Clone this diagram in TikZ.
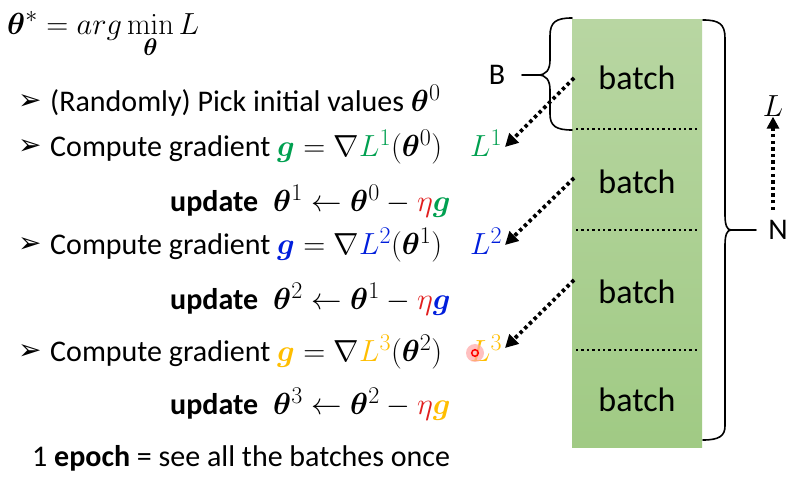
\RequirePackage{fix-cm}
\documentclass[tikz,border=0pt]{standalone}
\usepackage{amsmath,bm}
\usepackage[no-math]{fontspec}
\setmainfont{Carlito}
\newfontfamily\symfont{DejaVu Sans}
\usetikzlibrary{arrows.meta}
\DeclareMathSizes{30}{30.5}{24}{18}
\definecolor{mygreen}{RGB}{0,160,80}
\definecolor{myblue}{RGB}{0,30,220}
\definecolor{myyellow}{RGB}{255,190,0}
\definecolor{myred}{RGB}{225,30,30}
\definecolor{boxgreen}{RGB}{160,202,132}
\definecolor{boxtop}{RGB}{184,214,162}
\begin{document}
\begin{tikzpicture}[x=1pt,y=-1pt,
  txt/.style={font=\fontsize{30}{36}\selectfont, inner sep=0pt, anchor=base west},
  bul/.style={font=\symfont\fontsize{28}{32}\selectfont, inner sep=0pt, anchor=base west},
  lbl/.style={font=\fontsize{30}{36}\selectfont, inner sep=0pt},
  batchtxt/.style={font=\fontsize{34}{40}\selectfont, inner sep=0pt},
  sep/.style={line width=2.4pt, dash pattern=on 2.4pt off 3pt},
  darr/.style={line width=3.8pt, dash pattern=on 3.4pt off 3.2pt, -{Triangle[length=13pt,width=13pt]}},
  brace/.style={line width=1.6pt, line cap=round, line join=round}]
\useasboundingbox (0,0) rectangle (788,478);
\fill[white] (0,0) rectangle (788,478);

% green column
\fill[top color=boxtop, bottom color=boxgreen] (572,20) rectangle (702,448);
\draw[sep] (576,129) -- (700,129);
\draw[sep] (576,230) -- (700,230);
\draw[sep] (576,350) -- (700,350);
\node[batchtxt] (bt1) at (637,78) {batch};
\node[batchtxt] (bt2) at (637,182) {batch};
\node[batchtxt] (bt3) at (637,292) {batch};
\node[batchtxt] (bt4) at (637,400) {batch};

% left text
\node[txt] (t0) at (7,35) {$\displaystyle\bm{\theta}^{*} = arg\min_{\bm{\theta}} L$};
\node[bul] (b1) at (18,110) {➢};
\node[txt] (r1) at (50,112) {(Randomly) Pick initial values $\bm{\theta}^0$};
\node[bul] (b2) at (18,155) {➢};
\node[txt] (c1) at (50,157) {Compute gradient $\textcolor{mygreen}{\bm{g}} = \nabla\textcolor{mygreen}{L^1}(\bm{\theta}^0)$};
\node[txt] (u1) at (170,212) {\textbf{update}\enspace $\bm{\theta}^1 \leftarrow \bm{\theta}^0 - \textcolor{myred}{\eta}\textcolor{mygreen}{\bm{g}}$};
\node[bul] (b3) at (18,253) {➢};
\node[txt] (c2) at (50,255) {Compute gradient $\textcolor{myblue}{\bm{g}} = \nabla\textcolor{myblue}{L^2}(\bm{\theta}^1)$};
\node[txt] (u2) at (170,310) {\textbf{update}\enspace $\bm{\theta}^2 \leftarrow \bm{\theta}^1 - \textcolor{myred}{\eta}\textcolor{myblue}{\bm{g}}$};
\node[bul] (b4) at (18,360) {➢};
\node[txt] (c3) at (50,362) {Compute gradient $\textcolor{myyellow}{\bm{g}} = \nabla\textcolor{myyellow}{L^3}(\bm{\theta}^2)$};
\node[txt] (u3) at (170,415) {\textbf{update}\enspace $\bm{\theta}^3 \leftarrow \bm{\theta}^2 - \textcolor{myred}{\eta}\textcolor{myyellow}{\bm{g}}$};
\node[txt] (ep) at (32,467) {1 \textbf{epoch} = see all the batches once};

% loss labels
\node[txt] (L1) at (470,157) {$\textcolor{mygreen}{L^1}$};
\node[txt] (L2) at (470,255) {$\textcolor{myblue}{L^2}$};
\node[txt] (L3) at (470,362) {$\textcolor{myyellow}{L^3}$};

% pointer dot
\fill[red!35, opacity=0.7] (475,353) circle (9);
\draw[red, line width=1.5pt] (475,353) circle (3.3);

% arrows
\coordinate (s1) at (574,78);  \coordinate (e1) at (505,147);
\coordinate (s2) at (574,178); \coordinate (e2) at (505,245);
\coordinate (s3) at (574,280); \coordinate (e3) at (505,348);
\draw[darr] (s1) -- (e1);
\draw[darr] (s2) -- (e2);
\draw[darr] (s3) -- (e3);

% B brace
\node[lbl] (B) at (497,75) {B};
\coordinate (bt) at (538,75);
\coordinate (bs) at (522,75);
\draw[brace] (572,18) .. controls (556,18) and (550,22) .. (550,36) -- (550,60) .. controls (550,70) and (546,75) .. (bt) .. controls (546,75) and (550,80) .. (550,90) -- (550,114) .. controls (550,126) and (556,130) .. (572,130);
\draw[brace] (bs) -- (bt);

% N brace
\node[lbl] (N) at (778,230) {N};
\coordinate (nt) at (731,230);
\coordinate (ns) at (756,230);
\draw[brace] (703,20) .. controls (719,20) and (725,24) .. (725,38) -- (725,215) .. controls (725,225) and (727,230) .. (nt) .. controls (727,230) and (725,235) .. (725,245) -- (725,426) .. controls (725,436) and (719,440) .. (703,440);
\draw[brace] (nt) -- (ns);

% L arrow
\node[lbl] (Lt) at (773,106) {$L$};
\coordinate (la) at (773,210);
\draw[darr, -{Triangle[length=12pt,width=12pt]}] (la) -- (Lt.south);
\end{tikzpicture}
\end{document}
